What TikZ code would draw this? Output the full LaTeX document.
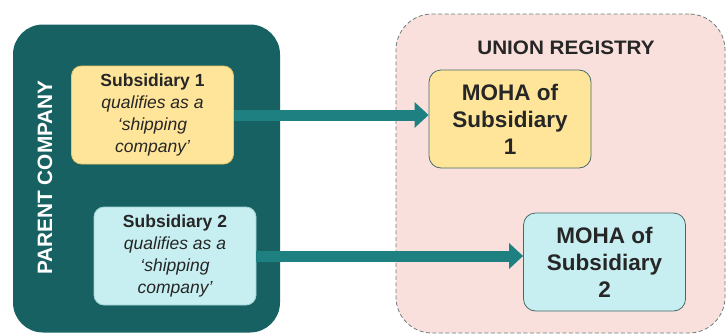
\documentclass[tikz,border=0pt]{standalone}
\usepackage{fontspec}
\setmainfont{Liberation Sans}
\usetikzlibrary{arrows.meta}

\definecolor{parentfill}{RGB}{24,97,99}
\definecolor{arrowteal}{RGB}{30,128,128}
\definecolor{yellowfill}{RGB}{255,229,153}
\definecolor{yellowline}{RGB}{232,200,110}
\definecolor{cyanfill}{RGB}{199,238,240}
\definecolor{cyanline}{RGB}{160,210,214}
\definecolor{mohaline}{RGB}{70,105,106}
\definecolor{unionfill}{RGB}{249,224,220}
\definecolor{unionline}{RGB}{110,125,128}
\definecolor{textdark}{RGB}{38,38,38}

\tikzset{
  parentbox/.style={fill=parentfill, rounded corners=30pt, inner sep=0pt},
  unionbox/.style={fill=unionfill, draw=unionline, dashed, line width=0.8pt,
    dash pattern=on 4pt off 2.5pt, rounded corners=36pt, inner sep=0pt},
  subbox/.style={rounded corners=10pt, line width=0.8pt, align=center,
    minimum width=162pt, minimum height=98pt, inner sep=2pt,
    text=textdark, font=\fontsize{17.5}{22.3}\selectfont},
  mohabox/.style={rounded corners=12pt, line width=0.8pt, draw=mohaline,
    align=center, minimum width=162pt, minimum height=98pt, inner sep=2pt,
    text=textdark, font=\fontsize{22.5}{27}\selectfont\bfseries},
  bigarrow/.style={draw=arrowteal, line width=11pt,
    -{Triangle[length=14pt,width=25pt]}},
}

\begin{document}
\begin{tikzpicture}[x=1pt,y=-1pt]
\useasboundingbox (0,0) rectangle (727,335);

% the two enclosing regions
\node[parentbox, minimum width=267pt, minimum height=308pt] (parent) at (146.5,178.5) {};
\node[unionbox, minimum width=329pt, minimum height=319pt] (union) at (560.5,173.5) {};

\node[rotate=90, text=white, font=\fontsize{20.8}{23}\selectfont\bfseries] (parentlabel) at (45,177.5) {PARENT COMPANY};
\node[text=textdark, xscale=1.06, font=\fontsize{19.5}{22}\selectfont\bfseries] (unionlabel) at (566,48) {UNION REGISTRY};

% subsidiaries
\node[subbox, fill=yellowfill, draw=yellowline] (sub1) at (152.5,115)
  {\textbf{Subsidiary 1}\\\itshape qualifies as a\\\itshape ‘shipping\\\itshape company’};
\node[subbox, fill=cyanfill, draw=cyanline] (sub2) at (175,256)
  {\textbf{Subsidiary 2}\\\itshape qualifies as a\\\itshape ‘shipping\\\itshape company’};

% registry entries
\node[mohabox, fill=yellowfill] (moha1) at (510,119) {MOHA of\\Subsidiary\\1};
\node[mohabox, fill=cyanfill] (moha2) at (604.5,262) {MOHA of\\Subsidiary\\2};

% connectors
\draw[bigarrow] (sub1.east) -- (sub1.east -| moha1.west);
\draw[bigarrow] (sub2.east) -- (sub2.east -| moha2.west);
\end{tikzpicture}
\end{document}
